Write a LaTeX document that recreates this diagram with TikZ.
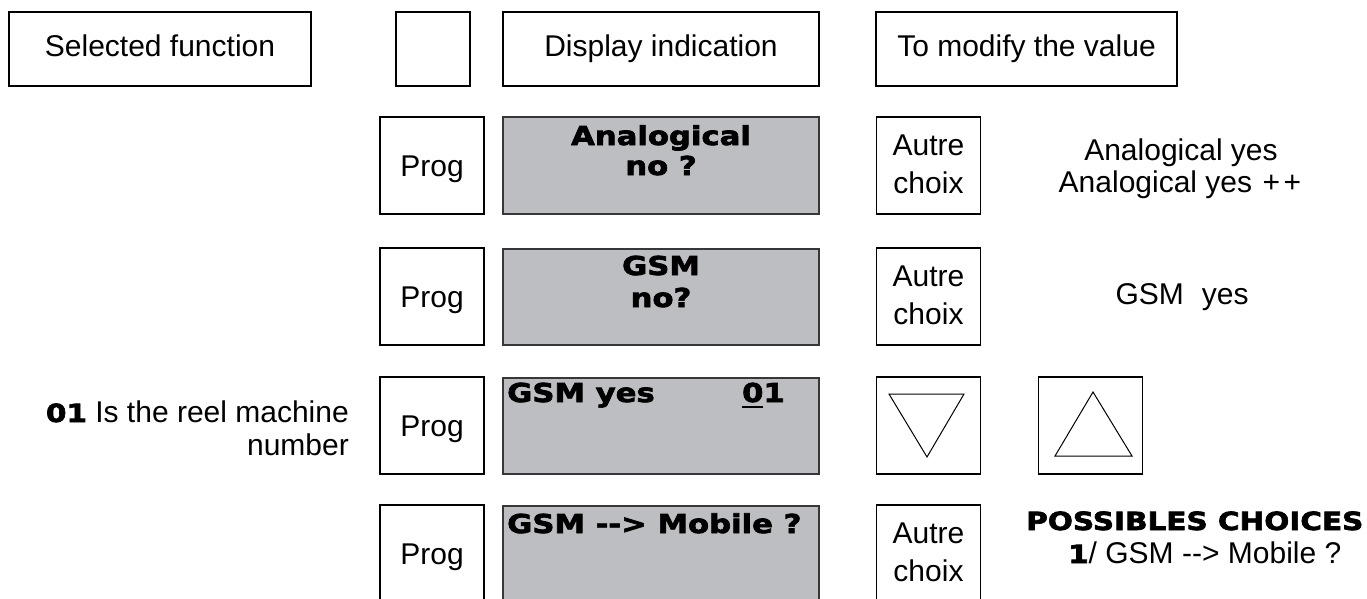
\documentclass[tikz,border=0pt]{standalone}
\usepackage{fontspec}
\setmainfont{Liberation Sans}
\newfontfamily\heavyfam[FakeStretch=1.18,FakeBold=2.6]{DejaVu Sans}
\definecolor{lcdgray}{RGB}{189,190,194}
\definecolor{lcdline}{RGB}{55,55,55}
\newcommand{\hvb}{\heavyfam\bfseries\fontsize{25}{30}\selectfont}
\newsavebox{\lcdbox}
\newcommand{\lcdul}[1]{\sbox{\lcdbox}{#1}\rlap{\rule[-6pt]{\wd\lcdbox}{2pt}}\usebox{\lcdbox}}
\newcommand{\dd}{\mbox{-}\mbox{-}}
\begin{document}
\begin{tikzpicture}[x=1pt,y=-1pt,
  reg/.style={font=\fontsize{30}{36}\selectfont, inner sep=0pt},
  hv/.style={font=\heavyfam\bfseries\fontsize{26}{30}\selectfont, inner sep=0pt},
  hdr/.style={draw, line width=2.4pt, inner sep=0pt, minimum height=74pt,
              text height=22pt, text depth=6pt, font=\fontsize{30}{36}\selectfont},
  keybox/.style={draw, line width=1.3pt, inner sep=0pt, minimum width=104pt,
              minimum height=97pt, text height=22pt, text depth=0pt,
              font=\fontsize{30}{36}\selectfont},
  lcd/.style={draw=lcdline, line width=2pt, fill=lcdgray, inner sep=0pt,
              minimum width=316pt, minimum height=96pt},
  tri/.style={draw, line width=1pt, line join=miter}]
\useasboundingbox (0,0) rectangle (1367,599);
\fill[white] (0,0) rectangle (1367,599);

% header
\node[hdr, minimum width=302pt] (sel) at (160,49) {Selected function};
\node[hdr, minimum width=74pt] (blank) at (433,49) {};
\node[hdr, minimum width=316pt] (disp) at (661,49) {Display indication};
\node[hdr, minimum width=301pt] (modif) at (1026.5,49) {To modify the value};

% row 1
\node[keybox] (prog1) at (432,165.5) {Prog};
\node[lcd] (lcd1) at (661,165.5) {};
\node[hv, anchor=base] (lcd1a) at (661,145) {Analogical};
\node[hv, anchor=base] (lcd1b) at (661,175) {no ?};
\node[keybox] (alt1) at (928.5,165.5) {};
\node[reg, anchor=base] (alt1a) at (928.5,155) {Autre};
\node[reg, anchor=base] (alt1b) at (928.5,193) {choix};
\node[reg, anchor=base] (val1a) at (1181,160) {Analogical yes};
\node[reg, anchor=base] (val1b) at (1180,192) {Analogical yes\hspace{0.35em}+\hspace{0.12em}+};

% row 2
\node[keybox] (prog2) at (432,296.5) {Prog};
\node[lcd] (lcd2) at (661,296.5) {};
\node[hv, anchor=base] (lcd2a) at (661,275) {GSM};
\node[hv, anchor=base] (lcd2b) at (661,307) {no?};
\node[keybox] (alt2) at (928.5,296.5) {};
\node[reg, anchor=base] (alt2a) at (928.5,286) {Autre};
\node[reg, anchor=base] (alt2b) at (928.5,324) {choix};
\node[reg, anchor=base] (val2) at (1182,304) {GSM\hspace{0.6em}yes};

% row 3
\node[reg, anchor=base east] (note1) at (349,422) {{\hvb 01} Is the reel machine};
\node[reg, anchor=base east] (note2) at (349,455) {number};
\node[keybox] (prog3) at (432,425.5) {Prog};
\node[lcd] (lcd3) at (661,425.5) {};
\node[hv, anchor=base west] (lcd3a) at (507,402) {GSM yes};
\node[hv, anchor=base east] (lcd3b) at (785,402) {\lcdul{0}1};
\node[keybox] (down) at (928.5,425.5) {};
\node[keybox] (up) at (1090.5,425.5) {};
\draw[tri] (889,394) -- (964,394) -- (927,457) -- cycle;
\draw[tri] (1093,392) -- (1132,456) -- (1055,456) -- cycle;

% row 4
\node[keybox] (prog4) at (432,553.5) {Prog};
\node[lcd] (lcd4) at (661,553.5) {};
\node[hv, anchor=base west] (lcd4a) at (507,533) {GSM \dd> Mobile ?};
\node[keybox] (alt4) at (928.5,553.5) {};
\node[reg, anchor=base] (alt4a) at (928.5,543) {Autre};
\node[reg, anchor=base] (alt4b) at (928.5,581) {choix};
\node[hv, anchor=base west, font=\heavyfam\bfseries\fontsize{25}{30}\selectfont] (choices) at (1026,530) {POSSIBLES CHOICES};
\node[reg, anchor=base west] (choice1) at (1068,563) {{\hvb 1}/ GSM \dd> Mobile ?};
\end{tikzpicture}
\end{document}
